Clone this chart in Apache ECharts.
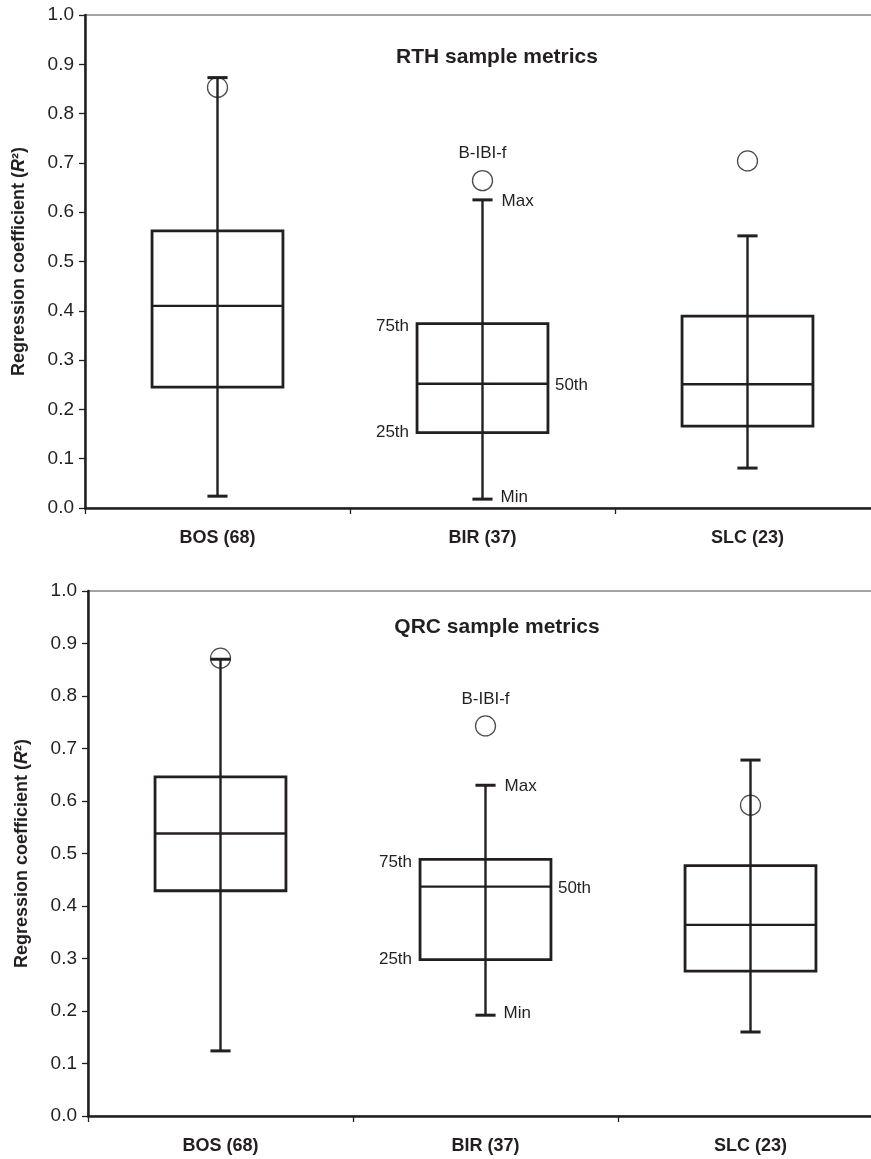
<!DOCTYPE html>
<html>
<head>
<meta charset="utf-8">
<script src="https://cdn.jsdelivr.net/npm/echarts@6/dist/echarts.min.js"></script>
<style>
  html, body { margin: 0; padding: 0; background: #fff; }
  #chart { width: 871px; height: 1159px; }
</style>
</head>
<body>
<div id="chart"></div>
<script>
// Sites (number of samples)
const categories = ['BOS (68)', 'BIR (37)', 'SLC (23)'];

// Value axis range shared by both panels
const yMin = 0;
const yMax = 1;
const yStep = 0.1;

// RTH sample metrics: distribution of R² across metrics
const rthTitle = 'RTH sample metrics';
const rthMin    = [0.024, 0.018, 0.081];
const rthQ1     = [0.245, 0.153, 0.166];
const rthMedian = [0.410, 0.252, 0.251];
const rthQ3     = [0.562, 0.374, 0.389];
const rthMax    = [0.873, 0.625, 0.552];
const rthBibi   = [0.853, 0.664, 0.704];

// QRC sample metrics
const qrcTitle = 'QRC sample metrics';
const qrcMin    = [0.124, 0.192, 0.160];
const qrcQ1     = [0.429, 0.298, 0.276];
const qrcMedian = [0.538, 0.437, 0.364];
const qrcQ3     = [0.646, 0.489, 0.477];
const qrcMax    = [0.870, 0.630, 0.678];
const qrcBibi   = [0.872, 0.743, 0.592];

// Key labels drawn next to the middle box
const keyMax = 'Max', keyMin = 'Min', keyQ3 = '75th', keyQ1 = '25th', keyMedian = '50th';
const bibiLabel = 'B-IBI-f';
const keyIndex = 1;

const axisTitle = '{t|Regression coefficient (}{i|R}{t|²)}';

const INK = '#231f20';
const FONT = '"Liberation Sans", Arial, Helvetica, sans-serif';

function boxRows(mn, q1, md, q3, mx, out) {
  return categories.map((c, i) => [i, mn[i], q1[i], md[i], q3[i], mx[i], out[i]]);
}

function renderBox(params, api) {
  const i = api.value(0);
  const band = api.size([1, 0])[0];
  const cx = api.coord([i, api.value(1)])[0];
  const yLo = api.coord([i, api.value(1)])[1];
  const yQ1 = api.coord([i, api.value(2)])[1];
  const yMd = api.coord([i, api.value(3)])[1];
  const yQ3 = api.coord([i, api.value(4)])[1];
  const yHi = api.coord([i, api.value(5)])[1];
  const yOut = api.coord([i, api.value(6)])[1];
  const hw = band * 0.247;
  const cap = band * 0.038;
  const lineStyle = { stroke: INK, lineWidth: 2.4, fill: null };
  const children = [
    { type: 'line', shape: { x1: cx, y1: yHi, x2: cx, y2: yLo }, style: lineStyle },
    { type: 'line', shape: { x1: cx - cap, y1: yHi, x2: cx + cap, y2: yHi }, style: { stroke: INK, lineWidth: 3 } },
    { type: 'line', shape: { x1: cx - cap, y1: yLo, x2: cx + cap, y2: yLo }, style: { stroke: INK, lineWidth: 3 } },
    { type: 'rect', shape: { x: cx - hw, y: yQ3, width: hw * 2, height: yQ1 - yQ3 },
      style: { stroke: INK, lineWidth: 2.8, fill: 'rgba(0,0,0,0)' } },
    { type: 'line', shape: { x1: cx - hw, y1: yMd, x2: cx + hw, y2: yMd }, style: lineStyle }
  ];
  if (params.dataIndex === keyIndex) {
    const ts = (txt, x, y, align) => ({
      type: 'text', x: x, y: y,
      style: { text: txt, fill: INK, fontSize: 17, fontFamily: FONT, align: align, verticalAlign: 'middle' }
    });
    children.push(
      ts(bibiLabel, cx, yOut - 27, 'center'),
      ts(keyMax, cx + cap + 9, yHi + 1, 'left'),
      ts(keyMin, cx + cap + 8, yLo - 2, 'left'),
      ts(keyQ3, cx - hw - 8, yQ3 + 3, 'right'),
      ts(keyQ1, cx - hw - 8, yQ1, 'right'),
      ts(keyMedian, cx + hw + 7, yMd + 2, 'left')
    );
  }
  return { type: 'group', children: children };
}

function xAxisCfg(gi) {
  return {
    type: 'category', gridIndex: gi, data: categories, boundaryGap: true,
    axisLine: { lineStyle: { color: INK, width: 2.5 } },
    axisTick: { show: true, length: 6, lineStyle: { color: INK, width: 1.3 } },
    axisLabel: { color: INK, fontSize: 18, fontWeight: 'bold', fontFamily: FONT, margin: 21 }
  };
}

function yAxisCfg(gi, gap) {
  return {
    type: 'value', gridIndex: gi, min: yMin, max: yMax, interval: yStep,
    axisLine: { show: true, lineStyle: { color: INK, width: 2.5 } },
    axisTick: { show: true, length: 6, lineStyle: { color: INK, width: 1.3 } },
    axisLabel: { color: INK, fontSize: 19, fontFamily: FONT, margin: 11,
      formatter: v => v.toFixed(1) },
    splitLine: { show: false },
    name: axisTitle, nameLocation: 'middle', nameRotate: 90, nameGap: gap,
    nameTextStyle: {
      rich: {
        t: { fontSize: 18, fontWeight: 'bold', color: INK, fontFamily: FONT },
        i: { fontSize: 18, fontWeight: 'bold', fontStyle: 'italic', color: INK, fontFamily: FONT }
      }
    }
  };
}

const chart = echarts.init(document.getElementById('chart'), null, { renderer: 'canvas' });

const gridBase = { show: true, borderColor: '#4a4a4a', borderWidth: 1.2,
  backgroundColor: 'rgba(0,0,0,0)', containLabel: false, outerBoundsMode: 'none' };

chart.setOption({
  backgroundColor: '#fff',
  animation: false,
  title: [
    { text: rthTitle, left: 492, top: 42, textAlign: 'center',
      textStyle: { color: INK, fontSize: 21, fontWeight: 'bold', fontFamily: FONT } },
    { text: qrcTitle, left: 492, top: 612, textAlign: 'center',
      textStyle: { color: INK, fontSize: 21, fontWeight: 'bold', fontFamily: FONT } }
  ],
  grid: [
    Object.assign({ left: 85, top: 15, width: 795, height: 493 }, gridBase),
    Object.assign({ left: 88, top: 591, width: 795, height: 525 }, gridBase)
  ],
  xAxis: [xAxisCfg(0), xAxisCfg(1)],
  yAxis: [yAxisCfg(0, 57), yAxisCfg(1, 57)],
  series: [
    { type: 'custom', xAxisIndex: 0, yAxisIndex: 0, renderItem: renderBox,
      encode: { x: 0, y: [1, 2, 3, 4, 5] },
      data: boxRows(rthMin, rthQ1, rthMedian, rthQ3, rthMax, rthBibi), z: 2 },
    { type: 'scatter', xAxisIndex: 0, yAxisIndex: 0, symbol: 'circle', symbolSize: 20,
      itemStyle: { color: 'rgba(0,0,0,0)', borderColor: INK, borderWidth: 1.3 },
      data: rthBibi.map((v, i) => [i, v]), z: 3 },
    { type: 'custom', xAxisIndex: 1, yAxisIndex: 1, renderItem: renderBox,
      encode: { x: 0, y: [1, 2, 3, 4, 5] },
      data: boxRows(qrcMin, qrcQ1, qrcMedian, qrcQ3, qrcMax, qrcBibi), z: 2 },
    { type: 'scatter', xAxisIndex: 1, yAxisIndex: 1, symbol: 'circle', symbolSize: 20,
      itemStyle: { color: 'rgba(0,0,0,0)', borderColor: INK, borderWidth: 1.3 },
      data: qrcBibi.map((v, i) => [i, v]), z: 3 }
  ]
});
</script>
</body>
</html>
